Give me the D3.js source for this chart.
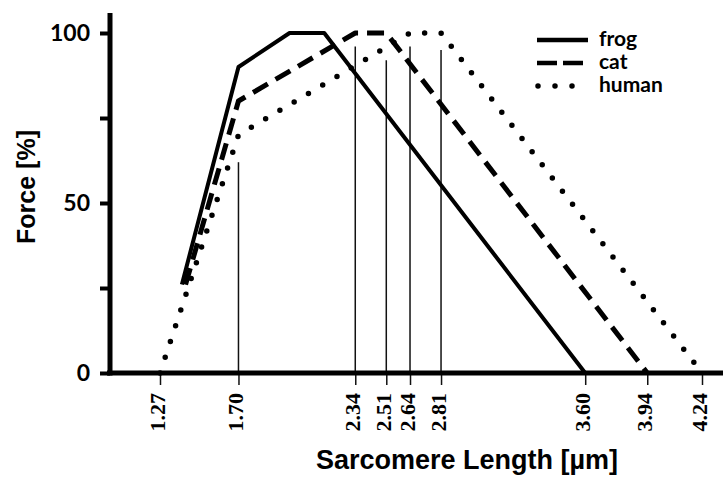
<!DOCTYPE html>
<html>
<head>
<meta charset="utf-8">
<script src="https://cdn.jsdelivr.net/npm/d3@7"></script>
<style>
  body { margin: 0; background: #fff; }
  svg { display: block; }
</style>
</head>
<body>
<svg width="723" height="477"></svg>
<script>
// force-length curves, [sarcomere length (um), force (%)]
var frog  = [[1.39, 26], [1.70, 90], [1.98, 100], [2.17, 100], [3.60, 0]];
var cat   = [[1.41, 26], [1.70, 80], [2.34, 100], [2.51, 100], [3.94, 0]];
var human = [[1.27, 0], [1.70, 70], [2.64, 100], [2.81, 100], [4.24, 0]];

// thin vertical marker lines: position and top (force %)
var markX   = [1.70, 2.34, 2.51, 2.64, 2.81];
var markTop = [62, 96, 92, 96, 95];

var xTicks = [1.27, 1.70, 2.34, 2.51, 2.64, 2.81, 3.60, 3.94, 4.24];
var yTicks = [0, 25, 50, 75, 100];
var yLabels = [0, 50, 100];

var seriesNames = ["frog", "cat", "human"];

var svg = d3.select("svg");

var x = d3.scaleLinear().domain([1.27, 4.24]).range([160, 702]);
var y = d3.scaleLinear().domain([0, 100]).range([373, 33]);

// dash styles for the three curves
var dash = {frog: null, cat: "17 9", human: "0 16.6"};
var cap  = {frog: "butt", cat: "butt", human: "round"};
var wid  = {frog: 4, cat: 5, human: 5.5};

// marker lines
svg.append("g")
	.selectAll("line")
	.data(markX)
	.join("line")
	.attr("x1", function(d) { return x(d); })
	.attr("x2", function(d) { return x(d); })
	.attr("y1", y(0))
	.attr("y2", function(d, i) { return y(markTop[i]); })
	.attr("stroke", "#111")
	.attr("stroke-width", 1.5);

// x axis
var xAxis = svg.append("g")
	.attr("transform", "translate(0," + y(0) + ")")
	.call(d3.axisBottom(x).tickValues(xTicks).tickSize(12).tickFormat(d3.format(".2f")));
xAxis.select(".domain").remove();
xAxis.selectAll(".tick line").attr("stroke", "#111").attr("stroke-width", 1.5);
xAxis.selectAll(".tick text")
	.attr("transform", "rotate(-90)")
	.attr("x", -20)
	.attr("y", 0)
	.attr("dy", "0.2em")
	.attr("text-anchor", "end")
	.style("font-family", "'Liberation Serif', serif")
	.style("font-weight", "bold")
	.style("font-size", "22px")
	.attr("fill", "#000");

// y axis
var yAxis = svg.append("g")
	.attr("transform", "translate(110,0)")
	.call(d3.axisLeft(y).tickValues(yTicks).tickSize(10)
		.tickFormat(function(d) { return yLabels.indexOf(d) >= 0 ? d : ""; }));
yAxis.select(".domain").remove();
yAxis.selectAll(".tick line").attr("stroke", "#000").attr("stroke-width", 4);
yAxis.selectAll(".tick text")
	.attr("x", -20)
	.style("font-family", "Lato, sans-serif")
	.style("font-weight", "bold")
	.style("font-size", "23px")
	.attr("fill", "#000");

// thick axis lines
svg.append("line")
	.attr("x1", 110).attr("x2", 110)
	.attr("y1", 13).attr("y2", y(0) + 2.5)
	.attr("stroke", "#000").attr("stroke-width", 5);
svg.append("line")
	.attr("x1", 107).attr("x2", 723)
	.attr("y1", y(0)).attr("y2", y(0))
	.attr("stroke", "#000").attr("stroke-width", 5);

// curves
var line = d3.line()
	.x(function(d) { return x(d[0]); })
	.y(function(d) { return y(d[1]); });

var curves = {frog: frog, cat: cat, human: human};
seriesNames.forEach(function(name) {
	svg.append("path")
		.datum(curves[name])
		.attr("d", line)
		.attr("fill", "none")
		.attr("stroke", "#000")
		.attr("stroke-width", wid[name])
		.attr("stroke-linecap", cap[name])
		.attr("stroke-linejoin", "round")
		.attr("stroke-dasharray", dash[name]);
});

// legend
var legDash = {frog: null, cat: "20 6", human: "0 17"};
var legend = svg.append("g").attr("transform", "translate(537,40)");
seriesNames.forEach(function(name, i) {
	legend.append("line")
		.attr("x1", name == "human" ? 1 : 0)
		.attr("x2", name == "human" ? 40 : 51)
		.attr("y1", i * 23).attr("y2", i * 23)
		.attr("stroke", "#000")
		.attr("stroke-width", name == "human" ? 5.5 : 4.5)
		.attr("stroke-linecap", name == "human" ? "round" : "butt")
		.attr("stroke-dasharray", legDash[name]);
	legend.append("text")
		.attr("x", 62)
		.attr("y", i * 23)
		.attr("dy", "0.3em")
		.style("font-family", "Lato, sans-serif")
		.style("font-weight", "bold")
		.style("font-size", "21px")
		.text(name);
});

// axis titles
svg.append("text")
	.attr("x", 467)
	.attr("y", 469)
	.attr("text-anchor", "middle")
	.style("font-family", "'Liberation Sans', Arial, sans-serif")
	.style("font-weight", "bold")
	.style("font-size", "27px")
	.text("Sarcomere Length [µm]");

svg.append("text")
	.attr("transform", "translate(35,187)rotate(-90)")
	.attr("text-anchor", "middle")
	.style("font-family", "'Liberation Sans', Arial, sans-serif")
	.style("font-weight", "bold")
	.style("font-size", "25px")
	.text("Force [%]");
</script>
</body>
</html>
